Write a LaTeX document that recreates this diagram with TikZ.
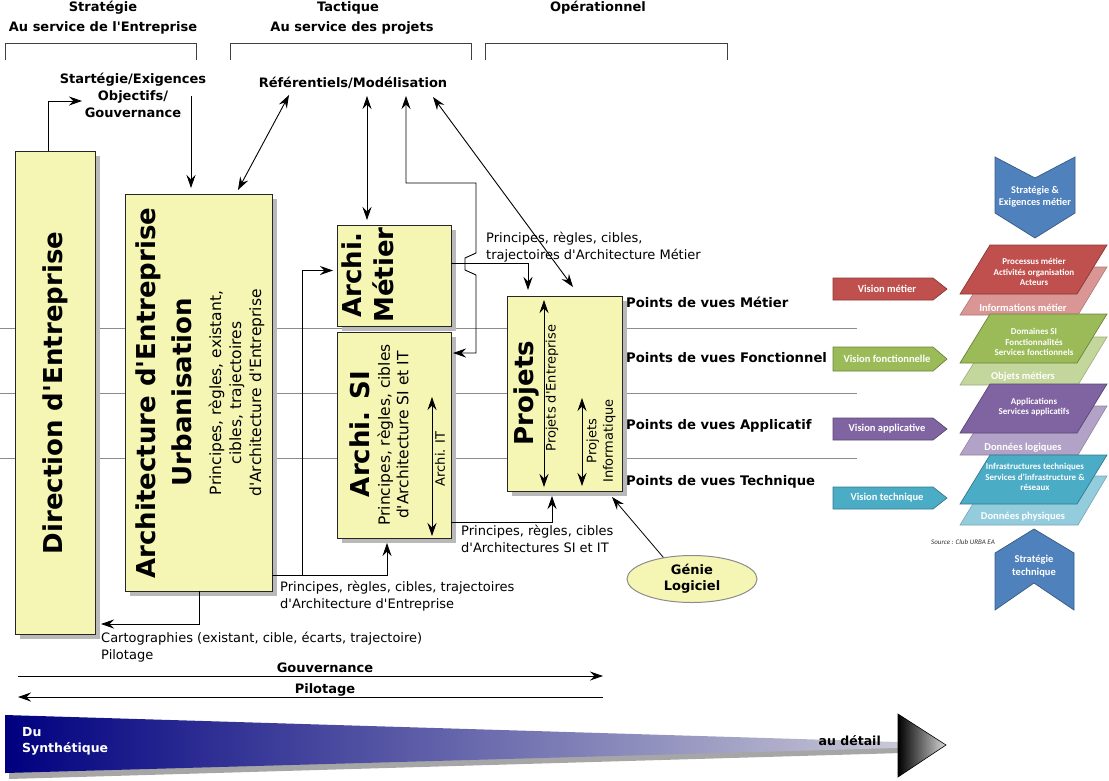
\documentclass[tikz,border=0pt]{standalone}
\usepackage{fontspec}
\setmainfont{DejaVu Sans}
\newfontfamily\carl{Carlito}
\usetikzlibrary{arrows.meta,shapes.geometric,shadows}
\newcommand{\myfs}[2]{\fontsize{#1}{#2}\selectfont}
\newcommand{\ap}{\textquotesingle}
\definecolor{boxy}{RGB}{245,245,180}
\definecolor{shad}{RGB}{185,185,185}
\definecolor{navyb}{RGB}{0,0,128}
\definecolor{wedgel}{RGB}{200,200,214}
\definecolor{oblue}{HTML}{4F81BD}
\definecolor{ored}{HTML}{C0504D}
\definecolor{oredl}{HTML}{D99694}
\definecolor{ogreen}{HTML}{9BBB59}
\definecolor{ogreenl}{HTML}{C3D69B}
\definecolor{opurple}{HTML}{8064A2}
\definecolor{opurplel}{HTML}{B3A2C7}
\definecolor{oteal}{HTML}{4BACC6}
\definecolor{oteall}{HTML}{93CDDD}
\begin{document}
\begin{tikzpicture}[x=1pt,y=-1pt,
  >={Stealth[length=13pt,width=9pt,inset=4.5pt]},
  ybox/.style={draw=black!85,line width=1pt,fill=boxy,inner sep=0pt,outer sep=0pt,
     drop shadow={fill=shad,opacity=1,shadow xshift=5pt,shadow yshift=-5pt}},
  conn/.style={draw=black,line width=0.9pt,->},
  dconn/.style={draw=black,line width=0.9pt,<->},
  band/.style={draw=black!45,line width=0.8pt},
  brk/.style={draw=black!75,line width=1pt},
  hdr/.style={inner sep=0pt,font=\bfseries\myfs{13}{17},align=center},
  lbl/.style={inner sep=0pt,font=\myfs{13}{16.5},align=left,anchor=west},
  blbl/.style={inner sep=0pt,font=\bfseries\myfs{13.2}{16.5},anchor=west},
  big/.style={inner sep=0pt,font=\bfseries\myfs{26}{32},align=center,rotate=90},
  mid/.style={inner sep=0pt,font=\myfs{15.5}{20},align=center,rotate=90},
  sml/.style={inner sep=0pt,font=\myfs{13}{16.5},align=center,rotate=90},
  wtxt/.style={inner sep=0pt,font=\carl\bfseries\myfs{9}{10.5},text=white,align=center},
  wtxtl/.style={inner sep=0pt,font=\carl\bfseries\myfs{10.5}{12},text=white,align=center},
  vtxt/.style={inner sep=0pt,font=\carl\bfseries\myfs{10.5}{12},text=white,align=center},
]
\useasboundingbox (0,0) rectangle (1109,780);

% ---------- headers ----------
\node[hdr] (hS)  at (103,8)  {Stratégie};
\node[hdr] (hSa) at (103,28) {Au service de l\ap Entreprise};
\node[hdr] (hT)  at (348,8)  {Tactique};
\node[hdr] (hTa) at (352,28) {Au service des projets};
\node[hdr] (hO)  at (598,8)  {Opérationnel};
\draw[brk] (5,60) |- (196,43) -- (196,60);
\draw[brk] (230,60) |- (471,43) -- (471,60);
\draw[brk] (485,60) |- (727,43) -- (727,60);

% ---------- band lines ----------
\draw[band] (0,328) -- (857,328);
\draw[band] (0,393) -- (857,393);
\draw[band] (0,458) -- (857,458);

% ---------- top labels ----------
\node[hdr] (strat) at (133,95) {Startégie/Exigences\\Objectifs/\\Gouvernance};
\node[hdr] (ref) at (353,83) {Référentiels/Modélisation};

% ---------- boxes ----------
\node[ybox,minimum width=80pt,minimum height=483pt] (dir) at (55,392.5) {};
\node[ybox,minimum width=147pt,minimum height=397pt] (arch) at (198.5,392.5) {};
\node[ybox,minimum width=114pt,minimum height=101pt] (met) at (394,275.5) {};
\node[ybox,minimum width=114pt,minimum height=206pt] (si) at (394,435) {};
\node[ybox,minimum width=115pt,minimum height=195pt] (proj) at (564.5,393.5) {};
\node[ellipse,draw=black!45,line width=1pt,fill=boxy,minimum width=130pt,minimum height=47pt,
      inner sep=0pt,font=\bfseries\myfs{13}{16},align=center] (genie) at (692,579) {Génie\\Logiciel};

% ---------- box texts ----------
\node[big] (tdir) at (55,393) {Direction d\ap Entreprise};
\node[big] (tarch1) at (148,393) {Architecture d\ap Entreprise};
\node[big] (tarch2) at (182,392) {Urbanisation};
\node[mid] (tarch3) at (236.5,393) {Principes, règles, existant,\\cibles, trajectoires\\d\ap Architecture d\ap Entreprise};
\node[big] (tmet) at (368,275) {Archi.\\Métier};
\node[big] (tsi1) at (360,434) {Archi. SI};
\node[mid,font=\myfs{15.5}{18.5}] (tsi2) at (393,435) {Principes, règles, cibles\\d\ap Architecture SI et IT};
\node[sml] (tit) at (440,459) {Archi. IT};
\node[big] (tproj) at (526,393) {Projets};
\node[sml] (tpe) at (552,388) {Projets d\ap Entreprise};
\node[sml] (tpi) at (601,441) {Projets\\Informatique};

% inner double arrows
\coordinate (it1) at (432,397); \coordinate (it2) at (432,536);
\draw[dconn] (it1) -- (it2);
\coordinate (pe1) at (544,300); \coordinate (pe2) at (544,487);
\draw[dconn] (pe1) -- (pe2);
\coordinate (pi1) at (582,398); \coordinate (pi2) at (582,486);
\draw[dconn] (pi1) -- (pi2);

% ---------- points de vues ----------
\node[blbl] (pv1) at (626,302) {Points de vues Métier};
\node[blbl] (pv2) at (626,358) {Points de vues Fonctionnel};
\node[blbl] (pv3) at (626,426) {Points de vues Applicatif};
\node[blbl] (pv4) at (626,482) {Points de vues Technique};

% ---------- labels ----------
\node[lbl] (lmet) at (486,247) {Principes, règles, cibles,\\trajectoires d\ap Architecture Métier};
\node[lbl] (lsi) at (461,539) {Principes, règles, cibles\\d\ap Architectures SI et IT};
\node[lbl] (lae) at (280,596) {Principes, règles, cibles, trajectoires\\d\ap Architecture d\ap Entreprise};
\node[lbl] (lcart) at (101,647) {Cartographies (existant, cible, écarts, trajectoire)\\Pilotage};

% ---------- connectors ----------
\coordinate (sa) at (82,101);
\draw[conn] ([xshift=-7pt]dir.north) |- (sa);
\coordinate (sb) at (191,96);
\draw[conn] (sb) -- ([xshift=-7.5pt,yshift=6pt]arch.north);
\coordinate (ra) at (289,95);
\draw[dconn] ([xshift=39.5pt,yshift=4pt]arch.north) -- (ra);
\coordinate (rb) at (367,96);
\draw[dconn] (rb) -- ([xshift=-27pt,yshift=5pt]met.north);
\coordinate (rc) at (406,96);
\draw[dconn] ([xshift=2pt,yshift=-21pt]si.north east) -- (476,353) -- (476,275) -- (465,270)
   -- (465,258) -- (476,253) -- (476,183) -- (406,183) -- (rc);
\draw[conn] ([yshift=12pt]met.east) -| ([xshift=-36.5pt,yshift=6pt]proj.north);
\coordinate (rd) at (433,97);
\draw[dconn] (rd) -- ([xshift=8.5pt,yshift=9pt]proj.north);
\draw[conn] ([yshift=-182.5pt]arch.east) -| ([xshift=-7pt,yshift=-5pt]si.south);
\coordinate (j1) at (302,575);
\draw[conn] (j1) |- ([xshift=-4pt,yshift=5pt]met.west);
\draw[conn] ([yshift=-87pt]si.east) -| ([xshift=-12.5pt,yshift=-5pt]proj.south);
\draw[conn,line width=0.8pt] (genie.143) -- ([xshift=-10pt,yshift=-6pt]proj.south east);
\draw[conn] ([xshift=0.5pt]arch.south) |- ([xshift=6pt,yshift=-231.5pt]dir.east);

% ---------- gouvernance / pilotage ----------
\coordinate (g1) at (18,676); \coordinate (g2) at (603,676);
\draw[conn] (g1) -- (g2);
\node[hdr] (lg) at (325,668) {Gouvernance};
\coordinate (p1) at (603,697); \coordinate (p2) at (18,697);
\draw[conn] (p1) -- (p2);
\node[hdr] (lp) at (325,690) {Pilotage};

% ---------- gradient wedge ----------
\fill[black!35] (9,721) -- (902,747) -- (902,753) -- (9,779) -- cycle;
\shade[left color=navyb,right color=wedgel] (5,715) -- (898,742) -- (898,748) -- (5,773) -- cycle;
\shade[left color=black,right color=black!15,draw=black,line width=0.6pt] (898,714) -- (946,745) -- (898,777) -- cycle;
\node[inner sep=0pt,font=\bfseries\myfs{12.5}{16},text=white,align=left,anchor=west] (du) at (22,741) {Du\\Synthétique};
\node[inner sep=0pt,font=\bfseries\myfs{12.5}{14},anchor=east] (aud) at (881,741) {au détail};

% ---------- right stack ----------
\filldraw[fill=oblue,draw=oblue!70!black,line width=0.7pt] (995,157) -- (1035,178) -- (1075,157) -- (1075,213) -- (1035,238) -- (995,213) -- cycle;
\node[wtxtl,font=\carl\bfseries\myfs{10.3}{12}] (cs1) at (1035,197) {Stratégie \&\\Exigences métier};
\filldraw[fill=oblue,draw=oblue!70!black,line width=0.7pt] (995,553) -- (1034,529) -- (1074,553) -- (1074,610) -- (1034,583) -- (995,610) -- cycle;
\node[wtxtl,font=\carl\bfseries\myfs{10.5}{13}] (cs2) at (1034,566) {Stratégie\\technique};

% red layer
\filldraw[fill=oredl,draw=oredl!80!black,line width=0.6pt] (990,267) -- (1107,267) -- (1078,315) -- (960,315) -- cycle;
\filldraw[fill=ored,draw=ored!70!black,line width=0.7pt] (990,245) -- (1107,245) -- (1077,294) -- (960,294) -- cycle;
\node[wtxt] (l1a) at (1034,272) {Processus métier\\Activités organisation\\Acteurs};
\node[wtxtl] (l1b) at (1023,308) {Informations métier};
% green layer
\filldraw[fill=ogreenl,draw=ogreenl!80!black,line width=0.6pt] (990,337) -- (1107,337) -- (1078,385) -- (960,385) -- cycle;
\filldraw[fill=ogreen,draw=ogreen!70!black,line width=0.7pt] (990,314) -- (1107,314) -- (1077,363) -- (960,363) -- cycle;
\node[wtxt] (l2a) at (1034,342) {Domaines SI\\Fonctionnalités\\Services fonctionnels};
\node[wtxtl] (l2b) at (1023,377) {Objets métiers};
% purple layer
\filldraw[fill=opurplel,draw=opurplel!80!black,line width=0.6pt] (990,406) -- (1107,406) -- (1078,455) -- (960,455) -- cycle;
\filldraw[fill=opurple,draw=opurple!70!black,line width=0.7pt] (990,384) -- (1107,384) -- (1077,433) -- (960,433) -- cycle;
\node[wtxt] (l3a) at (1034,407) {Applications\\Services applicatifs};
\node[wtxtl] (l3b) at (1023,448) {Données logiques};
% teal layer
\filldraw[fill=oteall,draw=oteall!80!black,line width=0.6pt] (990,476) -- (1107,476) -- (1078,525) -- (960,525) -- cycle;
\filldraw[fill=oteal,draw=oteal!70!black,line width=0.7pt] (990,455) -- (1107,455) -- (1077,504) -- (960,504) -- cycle;
\node[wtxt] (l4a) at (1035,477) {Infrastructures techniques\\Services d’infrastructure \&\\réseaux};
\node[wtxtl] (l4b) at (1023,517) {Données physiques};

\node[inner sep=0pt,font=\carl\itshape\myfs{7}{8},text=black!80] (src) at (963,542) {Source : Club URBA EA};

% vision arrows
\filldraw[fill=ored,draw=ored!70!black,line width=0.7pt] (833,278) -- (933,278) -- (947,289) -- (933,300) -- (833,300) -- cycle;
\node[vtxt] (v1) at (887,289) {Vision métier};
\filldraw[fill=ogreen,draw=ogreen!70!black,line width=0.7pt] (833,347) -- (933,347) -- (947,359) -- (933,371) -- (833,371) -- cycle;
\node[vtxt] (v2) at (887,359) {Vision fonctionnelle};
\filldraw[fill=opurple,draw=opurple!70!black,line width=0.7pt] (833,418) -- (933,418) -- (947,429) -- (933,440) -- (833,440) -- cycle;
\node[vtxt] (v3) at (887,429) {Vision applicative};
\filldraw[fill=oteal,draw=oteal!70!black,line width=0.7pt] (833,487) -- (933,487) -- (947,498) -- (933,509) -- (833,509) -- cycle;
\node[vtxt] (v4) at (887,498) {Vision technique};
\end{tikzpicture}
\end{document}
